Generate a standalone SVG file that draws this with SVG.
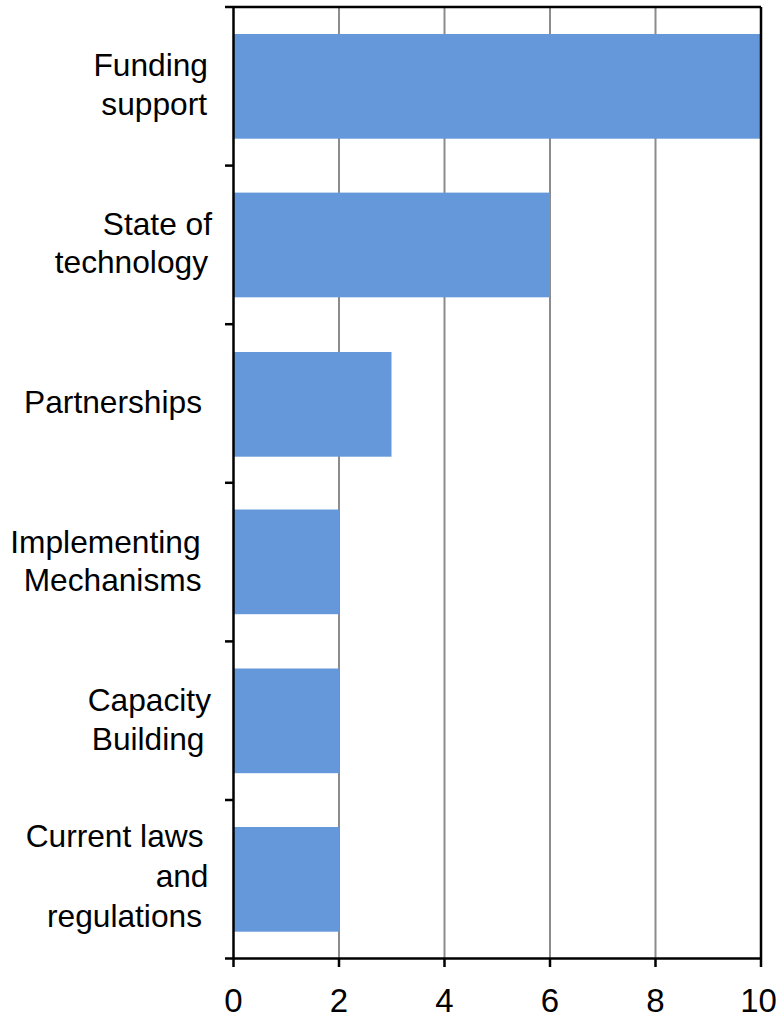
<svg xmlns="http://www.w3.org/2000/svg" width="780" height="1015" viewBox="0 0 780 1015">
<style>
.bar{fill:#6598db}
.grid{stroke:#8c8c8c;stroke-width:2}
.axis{stroke:#000;stroke-width:2.5;fill:none}
.lbl{font-family:"Liberation Sans",Arial,sans-serif;font-size:31.7px;fill:#000;text-anchor:end}
.num{font-family:"Liberation Sans",Arial,sans-serif;font-size:33px;fill:#000;text-anchor:middle}
</style>
<rect width="780" height="1015" fill="#fff"/>
<g id="grid">
<line class="grid" x1="339" y1="7" x2="339" y2="958.5"/>
<line class="grid" x1="444.5" y1="7" x2="444.5" y2="958.5"/>
<line class="grid" x1="550" y1="7" x2="550" y2="958.5"/>
<line class="grid" x1="655.5" y1="7" x2="655.5" y2="958.5"/>
</g>
<g id="bars">
<rect id="bar-funding" class="bar" x="234" y="34" width="527" height="104.7"/>
<rect id="bar-technology" class="bar" x="234" y="192.6" width="316" height="104.7"/>
<rect id="bar-partnerships" class="bar" x="234" y="352" width="157.5" height="104.7"/>
<rect id="bar-implementing" class="bar" x="234" y="509.5" width="105" height="104.7"/>
<rect id="bar-capacity" class="bar" x="234" y="668.5" width="105" height="104.7"/>
<rect id="bar-laws" class="bar" x="234" y="827" width="105" height="104.7"/>
</g>
<g id="axes">
<line class="axis" x1="225" y1="7" x2="761" y2="7"/>
<line class="axis" x1="761" y1="7" x2="761" y2="967"/>
<line class="axis" x1="233.5" y1="7" x2="233.5" y2="967"/>
<line class="axis" x1="225" y1="958.5" x2="761" y2="958.5"/>
<line class="axis" x1="225" y1="165.6" x2="233.5" y2="165.6"/>
<line class="axis" x1="225" y1="324.2" x2="233.5" y2="324.2"/>
<line class="axis" x1="225" y1="482.8" x2="233.5" y2="482.8"/>
<line class="axis" x1="225" y1="641.4" x2="233.5" y2="641.4"/>
<line class="axis" x1="225" y1="800" x2="233.5" y2="800"/>
<line class="axis" x1="339" y1="958.5" x2="339" y2="967"/>
<line class="axis" x1="444.5" y1="958.5" x2="444.5" y2="967"/>
<line class="axis" x1="550" y1="958.5" x2="550" y2="967"/>
<line class="axis" x1="655.5" y1="958.5" x2="655.5" y2="967"/>
</g>
<g id="category-labels">
<text class="lbl" x="208" y="76">Funding</text>
<text class="lbl" x="207" y="115">support</text>
<text class="lbl" x="212" y="235">State of</text>
<text class="lbl" x="208" y="273">technology</text>
<text class="lbl" x="202" y="413">Partnerships</text>
<text class="lbl" x="200.5" y="553">Implementing</text>
<text class="lbl" x="201.5" y="591">Mechanisms</text>
<text class="lbl" x="211" y="711">Capacity</text>
<text class="lbl" x="204.5" y="750">Building</text>
<text class="lbl" x="203.5" y="847">Current laws</text>
<text class="lbl" x="208.5" y="887">and</text>
<text class="lbl" x="202" y="927">regulations</text>
</g>
<g id="value-labels">
<text class="num" x="233.5" y="1011.5">0</text>
<text class="num" x="339" y="1011.5">2</text>
<text class="num" x="444.5" y="1011.5">4</text>
<text class="num" x="550" y="1011.5">6</text>
<text class="num" x="655.5" y="1011.5">8</text>
<text class="num" x="758.5" y="1011.5">10</text>
</g>
</svg>
